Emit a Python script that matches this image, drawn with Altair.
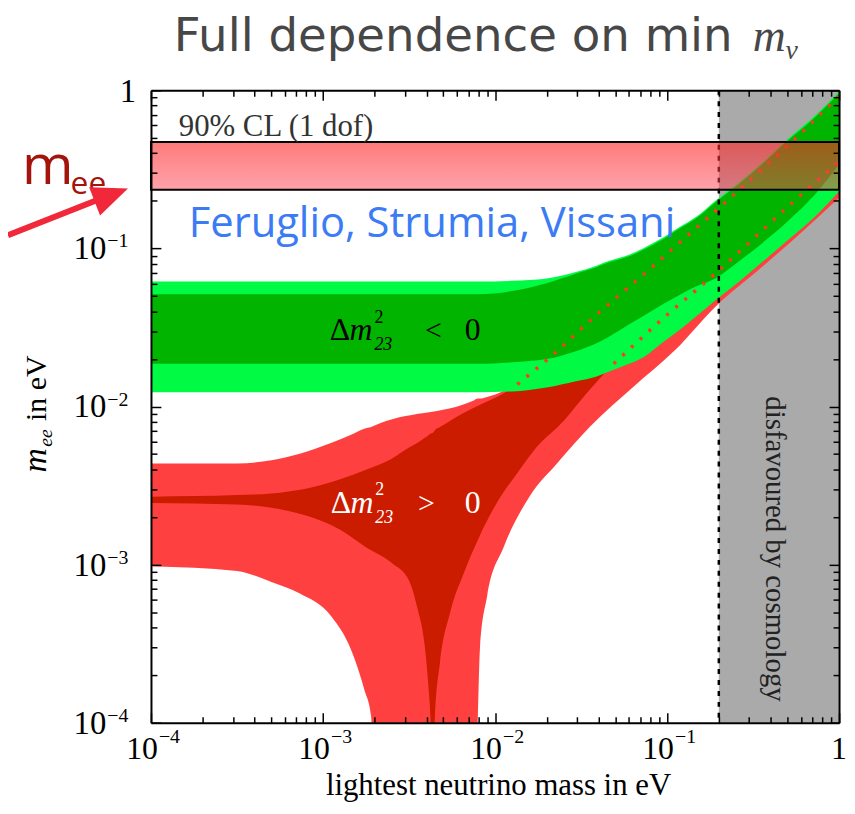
import altair as alt
import numpy as np
import pandas as pd

# ---------------- data (log10 of eV) ----------------
# normal hierarchy (Delta m^2_23 > 0), outer (light red) band
LR_X  = [-4.0, -3.5, -3.3, -3.14, -2.95, -2.84, -2.76, -2.72, -2.70, -2.12, -2.10, -2.087, -2.046, -1.95, -1.80, -1.64, -1.45, -1.20, -0.95, -0.72, -0.45, -0.20, 0.0]
LR_LO = [-3.01, -3.04, -3.11, -3.18, -3.33, -3.53, -3.79, -3.96, -5.0, -5.0, -3.97, -3.52, -3.20, -2.89, -2.57, -2.36, -2.13, -1.88, -1.64, -1.37, -1.12, -0.88, -0.68]
LR_HI = [-2.36, -2.36, -2.34, -2.30, -2.23, -2.18, -2.14, -2.13, -2.12, -1.96, -1.95, -1.95, -1.94, -1.90, -1.79, -1.63, -1.46, -1.22, -0.98, -0.77, -0.50, -0.25, -0.04]

# normal hierarchy, inner (dark red) band
DR_X  = [-4.0, -3.5, -3.3, -3.1, -2.9, -2.75, -2.6, -2.5, -2.45, -2.41, -2.385, -2.375, -2.37, -2.355, -2.35, -2.32, -2.26, -2.18, -2.09, -1.99, -1.87, -1.76, -1.6, -1.47, -1.31, -1.02, -0.72, -0.45, -0.25, 0.0]
DR_LO = [-2.61, -2.62, -2.64, -2.69, -2.78, -2.89, -2.99, -3.10, -3.28, -3.50, -3.80, -3.97, -5.0, -5.0, -3.97, -3.62, -3.30, -3.05, -2.82, -2.61, -2.42, -2.26, -2.09, -1.92, -1.73, -1.44, -1.16, -0.89, -0.69, -0.45]
DR_HI = [-2.57, -2.56, -2.55, -2.52, -2.46, -2.40, -2.33, -2.26, -2.23, -2.20, -2.18, -2.17, -2.17, -2.16, -2.15, -2.13, -2.09, -2.04, -1.99, -1.94, -1.86, -1.76, -1.61, -1.48, -1.33, -1.06, -0.77, -0.50, -0.30, -0.04]

# inverted hierarchy (Delta m^2_23 < 0)
G_X   = [-4.0, -2.1, -1.9, -1.7, -1.53, -1.41, -1.34, -1.22, -1.14, -1.02, -0.92, -0.83, -0.72, -0.58, -0.45, -0.30, -0.14, 0.0]
LG_HI = [-1.21, -1.21, -1.205, -1.19, -1.15, -1.11, -1.08, -1.04, -1.00, -0.93, -0.86, -0.80, -0.70, -0.58, -0.46, -0.31, -0.16, -0.01]
LG_LO = [-1.91, -1.91, -1.905, -1.88, -1.84, -1.81, -1.78, -1.73, -1.69, -1.59, -1.51, -1.43, -1.33, -1.21, -1.09, -0.95, -0.80, -0.64]
DG_HI = [-1.29, -1.29, -1.27, -1.22, -1.16, -1.12, -1.09, -1.05, -1.01, -0.94, -0.87, -0.81, -0.71, -0.59, -0.47, -0.32, -0.17, -0.02]
DG_LO = [-1.73, -1.73, -1.72, -1.70, -1.65, -1.60, -1.56, -1.48, -1.43, -1.35, -1.29, -1.24, -1.19, -1.08, -0.97, -0.83, -0.66, -0.47]

# hidden red boundaries shown dotted through the green band
UPDOT_X = [-1.87, -1.64, -1.41, -1.12, -0.83, -0.60, -0.45, -0.25, -0.06, 0.0]
UPDOT_Y = [-1.86, -1.65, -1.42, -1.15, -0.87, -0.65, -0.50, -0.30, -0.10, -0.04]
LODOT_X = [-1.31, -1.02, -0.72, -0.45, -0.25, 0.0]
LODOT_Y = [-1.73, -1.44, -1.16, -0.89, -0.69, -0.45]

COSMO_LIMIT = 0.2            # eV, disfavoured by cosmology
MEE_BAND = [0.235, 0.47]     # m_ee 90% CL band (eV)
DOMAIN = [1e-4, 1.0]

XTICKS = [1e-4, 1e-3, 1e-2, 1e-1]
XEXP = ["\u22124", "\u22123", "\u22122", "\u22121"]
YTICKS = [1e-4, 1e-3, 1e-2, 1e-1]
YEXP = ["\u22124", "\u22123", "\u22122", "\u22121"]
MAJOR = [1e-4, 1e-3, 1e-2, 1e-1, 1.0]
MINOR = [k * 10.0 ** e for e in (-4, -3, -2, -1) for k in range(2, 10)]

# ---------------- layout ----------------
PX0, PY0 = 152, 88
W, H = 693, 637
SERIF = "Liberation Serif"

xs = alt.Scale(type="log", domain=DOMAIN, nice=False)
ys = alt.Scale(type="log", domain=DOMAIN, nice=False)


def band_df(xl, lo, hi):
    return pd.DataFrame({"x": 10 ** np.array(xl), "lo": 10 ** np.array(lo), "hi": 10 ** np.array(hi)})


def line_df(xl, yl):
    return pd.DataFrame({"x": 10 ** np.array(xl), "y": 10 ** np.array(yl)})


def area(df, color):
    return alt.Chart(df).mark_area(color=color, clip=True, interpolate="monotone", orient="vertical", opacity=1).encode(
        x=alt.X("x:Q", scale=xs, axis=None),
        y=alt.Y("lo:Q", scale=ys, axis=None),
        y2="hi:Q",
    )


def dotted(df):
    return alt.Chart(df).mark_line(color="#ff3a22", strokeDash=[3, 9], strokeWidth=3.5, clip=True,
                                   interpolate="monotone").encode(
        x=alt.X("x:Q", scale=xs, axis=None), y=alt.Y("y:Q", scale=ys, axis=None))


def label(text, px, py, size, font=SERIF, color="black", style="normal", weight="normal",
          align="left", baseline="alphabetic", angle=0):
    return alt.Chart(pd.DataFrame({"t": [text]})).mark_text(
        font=font, fontSize=size, color=color, fontStyle=style, fontWeight=weight,
        align=align, baseline=baseline, angle=angle).encode(
        x=alt.value(px - PX0), y=alt.value(py - PY0), text="t:N")


axis_df = pd.DataFrame({"v": DOMAIN, "w": DOMAIN})


def axis_layer(channel, orient, offset, values, size, domain):
    ax = alt.Axis(orient=orient, offset=offset, values=values, tickSize=size, labels=False,
                  domain=domain, domainColor="black", domainWidth=2, grid=False, title=None,
                  tickColor="black", tickWidth=1.5, zindex=1)
    if channel == "x":
        enc = dict(x=alt.X("v:Q", scale=xs, axis=ax), y=alt.Y("w:Q", scale=ys, axis=None))
    else:
        enc = dict(y=alt.Y("v:Q", scale=ys, axis=ax), x=alt.X("w:Q", scale=xs, axis=None))
    return alt.Chart(axis_df).mark_point(opacity=0).encode(**enc)


layers = []

# cosmology-disfavoured region
layers.append(alt.Chart(pd.DataFrame({"x0": [COSMO_LIMIT], "x1": [DOMAIN[1]], "y0": [DOMAIN[0]], "y1": [DOMAIN[1]]}))
              .mark_rect(color="#aaaaaa").encode(
    x=alt.X("x0:Q", scale=xs, axis=None), x2="x1:Q", y=alt.Y("y0:Q", scale=ys, axis=None), y2="y1:Q"))

layers.append(area(band_df(LR_X, LR_LO, LR_HI), "#ff4040"))
layers.append(area(band_df(DR_X, DR_LO, DR_HI), "#cc1c00"))
layers.append(area(band_df(G_X, LG_LO, LG_HI), "#00fa44"))
layers.append(area(band_df(G_X, DG_LO, DG_HI), "#00b400"))
layers.append(dotted(line_df(UPDOT_X, UPDOT_Y)))
layers.append(dotted(line_df(LODOT_X, LODOT_Y)))

# dashed cosmology limit
layers.append(alt.Chart(pd.DataFrame({"x": [COSMO_LIMIT]})).mark_rule(color="black", strokeDash=[5, 6], strokeWidth=2.5)
              .encode(x=alt.X("x:Q", scale=xs, axis=None)))

# m_ee band
grad = alt.LinearGradient(gradient="linear", x1=0, x2=0, y1=0, y2=1, stops=[
    alt.GradientStop(color="rgba(255,40,40,0.62)", offset=0),
    alt.GradientStop(color="rgba(255,70,85,0.50)", offset=1)])
layers.append(alt.Chart(pd.DataFrame({"x0": [DOMAIN[0]], "x1": [DOMAIN[1]], "y0": [MEE_BAND[0]], "y1": [MEE_BAND[1]]}))
              .mark_rect(fill=grad, stroke="black", strokeWidth=2).encode(
    x=alt.X("x0:Q", scale=xs, axis=None), x2="x1:Q", y=alt.Y("y0:Q", scale=ys, axis=None), y2="y1:Q"))

# tick labels
xt = pd.DataFrame({"v": XTICKS, "b": ["10"] * len(XTICKS), "e": XEXP})
layers.append(alt.Chart(xt).mark_text(font=SERIF, fontSize=32, align="right", baseline="middle", dx=7).encode(
    x=alt.X("v:Q", scale=xs, axis=None), y=alt.value(752 - PY0), text="b:N"))
layers.append(alt.Chart(xt).mark_text(font=SERIF, fontSize=20, align="left", baseline="middle", dx=8).encode(
    x=alt.X("v:Q", scale=xs, axis=None), y=alt.value(739 - PY0), text="e:N"))
layers.append(alt.Chart(pd.DataFrame({"v": [1.0], "b": ["1"]})).mark_text(
    font=SERIF, fontSize=32, align="center", baseline="middle").encode(
    x=alt.X("v:Q", scale=xs, axis=None), y=alt.value(752 - PY0), text="b:N"))

yt = pd.DataFrame({"v": YTICKS, "b": ["10"] * len(YTICKS), "e": YEXP})
layers.append(alt.Chart(yt).mark_text(font=SERIF, fontSize=33, align="right", baseline="middle", dy=1).encode(
    y=alt.Y("v:Q", scale=ys, axis=None), x=alt.value(107 - PX0), text="b:N"))
layers.append(alt.Chart(yt).mark_text(font=SERIF, fontSize=20, align="left", baseline="middle", dy=-7).encode(
    y=alt.Y("v:Q", scale=ys, axis=None), x=alt.value(108 - PX0), text="e:N"))
layers.append(alt.Chart(pd.DataFrame({"v": [1.0], "b": ["1"]})).mark_text(
    font=SERIF, fontSize=33, align="right", baseline="middle", dy=2).encode(
    y=alt.Y("v:Q", scale=ys, axis=None), x=alt.value(137 - PX0), text="b:N"))

# title
layers.append(label("Full dependence on min", 175, 48, 47, font="DejaVu Sans", color="#474747"))
layers.append(label("m", 758, 48, 46, style="italic", color="#474747"))
layers.append(label("\u03bd", 791, 57, 28, style="italic", color="#474747"))

# axis titles
layers.append(label("lightest neutrino mass in eV", 502, 798, 31, align="center"))
layers.append(label("m", 46, 473, 34, style="italic", angle=270))
layers.append(label("ee", 52, 447, 20, style="italic", angle=270))
layers.append(label("in eV", 46, 421, 30, angle=270))

# annotations inside
layers.append(label("90% CL (1 dof)", 180, 134, 31, color="#333333"))
layers.append(label("Feruglio, Strumia, Vissani", 190, 236, 42, font="Open Sans", color="#3b7cf4"))
layers.append(label("disfavoured by cosmology", 780, 550, 29, color="#222222", align="center",
                    baseline="middle", angle=90))

# Delta m^2_23 < 0
layers.append(label("\u0394", 332, 340, 32))
layers.append(label("m", 352, 340, 32, style="italic"))
layers.append(label("2", 377, 322, 18))
layers.append(label("23", 377, 350, 18, style="italic"))
layers.append(label("<", 428, 340, 30))
layers.append(label("0", 468, 340, 32))
# Delta m^2_23 > 0
layers.append(label("\u0394", 333, 514, 32, color="white"))
layers.append(label("m", 353, 514, 32, style="italic", color="white"))
layers.append(label("2", 378, 496, 18, color="white"))
layers.append(label("23", 378, 524, 18, style="italic", color="white"))
layers.append(label(">", 421, 514, 30, color="white"))
layers.append(label("0", 468, 514, 32, color="white"))

# m_ee callout with arrow
layers.append(label("m", 22, 182, 56, font="Open Sans", color="#a3150c"))
layers.append(label("ee", 71, 192, 32, font="Open Sans", color="#a3150c"))
layers.append(alt.Chart(pd.DataFrame({"a": [0]})).mark_rule(color="#f0283a", strokeWidth=6).encode(
    x=alt.value(8 - PX0), y=alt.value(234 - PY0), x2=alt.value(112 - PX0), y2=alt.value(193 - PY0)))
layers.append(alt.Chart(pd.DataFrame({"a": [0]})).mark_point(
    shape="M 1 0 L -1 -0.85 L -1 0.85 Z", filled=True, color="#f0283a", opacity=1, size=1296, angle=339).encode(
    x=alt.value(112 - PX0), y=alt.value(193.5 - PY0)))

# inward-facing ticks and frame
layers.append(axis_layer("y", "right", -W, MAJOR, 10, True))
layers.append(axis_layer("y", "right", -W, MINOR, 6, False))
layers.append(axis_layer("y", "left", -W, MAJOR, 10, True))
layers.append(axis_layer("y", "left", -W, MINOR, 6, False))
layers.append(axis_layer("x", "top", -H, MAJOR, 10, True))
layers.append(axis_layer("x", "top", -H, MINOR, 6, False))
layers.append(axis_layer("x", "bottom", -H, MAJOR, 10, True))
layers.append(axis_layer("x", "bottom", -H, MINOR, 6, False))

chart = alt.layer(*layers).resolve_axis(x="independent", y="independent").properties(
    width=W, height=H, autosize="none",
    padding={"left": PX0 - 8, "top": PY0 - 8, "right": 8, "bottom": 80},
).configure_view(stroke=None)

chart.save("out.html", embed_options={"renderer": "svg", "actions": False})
